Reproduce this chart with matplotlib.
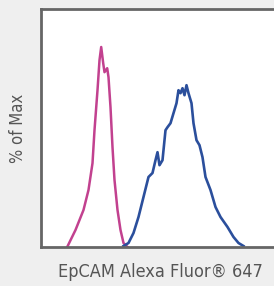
#!/usr/bin/env python3
"""Flow cytometry histogram overlay: EpCAM Alexa Fluor 647 vs isotype."""

import matplotlib.pyplot as plt

# channel position (arbitrary units) and % of max
isotype_x = [26.7, 35, 43, 48, 52, 54, 57, 59, 60.7, 62.7, 64, 66.7, 68, 70,
             72, 74, 77, 80, 83, 87]
isotype_y = [0, 8.5, 18.5, 28.5, 41.9, 58.4, 78.4, 93.4, 100, 91.9, 87.4,
             89.4, 84.9, 69.9, 49.9, 33.5, 18.5, 8.5, 2, 0]

epcam_x = [83, 88, 93, 98, 103, 108, 112, 115, 117, 119, 122, 125, 127, 130,
           133, 136, 138, 140, 142, 144, 146, 148, 151, 153, 156, 159, 162,
           165, 170, 175, 180, 187, 193, 198, 203]
epcam_y = [0.5, 2, 7, 15, 25, 35, 37, 43.4, 47.4, 40.9, 43.4, 58.4, 59.9,
           61.9, 66.9, 71.9, 78.4, 76.9, 79.4, 75.9, 80.9, 76.9, 71.9, 61.9,
           53.4, 50.9, 44.9, 35, 28.5, 20, 15, 10, 5, 2, 0.5]

XLABEL = "EpCAM Alexa Fluor\u00ae 647"
YLABEL = "% of Max"

plt.rcParams["font.family"] = ["DejaVu Sans"]
plt.rcParams["font.stretch"] = "condensed"

fig = plt.figure(figsize=(2.74, 2.86), dpi=100, facecolor="#efefef")
# the frame runs past the right edge of the image in the reference
ax = fig.add_axes([40.5 / 274, 1 - 247 / 286, 236 / 274, 238 / 286])
ax.set_facecolor("white")

ax.plot(isotype_x, isotype_y, color="#c2418f", lw=1.8, solid_joinstyle="round")
ax.plot(epcam_x, epcam_y, color="#2b4f9c", lw=1.9, solid_joinstyle="round")

ax.set_xlim(0, 236)
ax.set_ylim(0, 119)
ax.set_xticks([])
ax.set_yticks([])
for side in ax.spines.values():
    side.set_color("#666666")
    side.set_linewidth(2)

fig.text(160 / 274, 1 - 272 / 286, XLABEL, ha="center", va="center",
         fontsize=13, color="#555555", fontstretch="condensed")
fig.text(18 / 274, 1 - 128 / 286, YLABEL, ha="center", va="center",
         rotation=90, fontsize=12, color="#555555", fontstretch="condensed")

fig.savefig("out.png", dpi=100, facecolor=fig.get_facecolor())
